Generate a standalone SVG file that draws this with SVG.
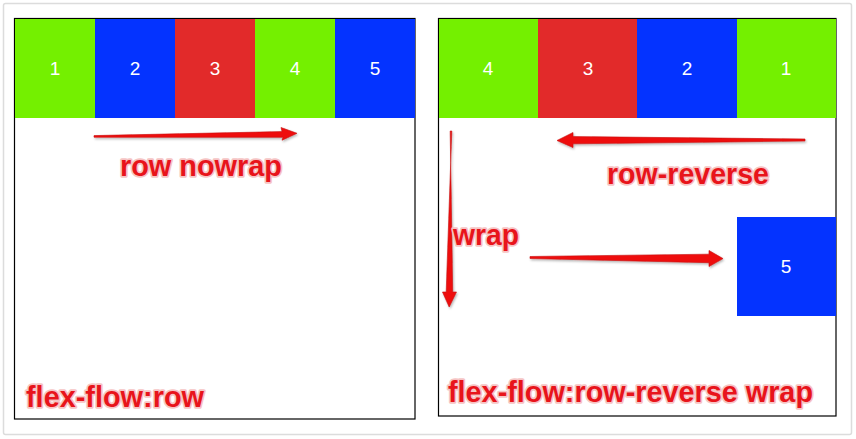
<svg xmlns="http://www.w3.org/2000/svg" width="856" height="439" viewBox="0 0 856 439">
<style>
.g{fill:#74f000}.b{fill:#0433ff}.r{fill:#e22a2a}
.num{font-family:"Liberation Sans",Arial,sans-serif;font-size:19px;fill:#fff;text-anchor:middle}
.lbl{font-family:"Liberation Sans",Arial,sans-serif;font-weight:bold;font-size:30px;fill:#e8141b;stroke:#f6c4c4;stroke-width:3.5px;paint-order:stroke;stroke-linejoin:round}
.arr{fill:#ee1010;stroke:#c80c0c;stroke-width:0.6}
.box{fill:#fff;stroke:#000;stroke-width:1.2}
</style>
<defs>
<filter id="sh" x="-5%" y="-20%" width="110%" height="140%"><feDropShadow dx="1" dy="1.5" stdDeviation="1" flood-color="#000" flood-opacity="0.3"/></filter>
</defs>
<rect x="0" y="0" width="856" height="439" fill="#fff"/>
<rect x="3.5" y="3.5" width="848" height="431" rx="2" fill="#fff" stroke="#dcdcdc" stroke-width="1.5"/>
<g id="left-panel">
<rect class="box" x="14.5" y="18.5" width="400.5" height="400.5"/>
<g id="l1"><rect class="g" x="15" y="19" width="80" height="99"/><text class="num" x="55" y="75">1</text></g>
<g id="l2"><rect class="b" x="95" y="19" width="80" height="99"/><text class="num" x="135" y="75">2</text></g>
<g id="l3"><rect class="r" x="175" y="19" width="80" height="99"/><text class="num" x="215" y="75">3</text></g>
<g id="l4"><rect class="g" x="255" y="19" width="80" height="99"/><text class="num" x="295" y="75">4</text></g>
<g id="l5"><rect class="b" x="335" y="19" width="80" height="99"/><text class="num" x="375" y="75">5</text></g>
</g>
<g id="right-panel">
<rect class="box" x="438.5" y="18.5" width="397.5" height="397.5"/>
<g id="r4"><rect class="g" x="439" y="19" width="99" height="99"/><text class="num" x="488" y="75">4</text></g>
<g id="r3"><rect class="r" x="538" y="19" width="99" height="99"/><text class="num" x="588" y="75">3</text></g>
<g id="r2"><rect class="b" x="637" y="19" width="100" height="99"/><text class="num" x="687" y="75">2</text></g>
<g id="r1"><rect class="g" x="737" y="19" width="99" height="99"/><text class="num" x="786" y="75">1</text></g>
<g id="r5"><rect class="b" x="737" y="217" width="99" height="99"/><text class="num" x="786" y="273">5</text></g>
</g>
<g id="connectors" filter="url(#sh)">
<polygon class="arr" points="94,135.6 282,131.6 281,127.5 297,133.3 282,140.2 283,137.2 94,137.2"/>
<polygon class="arr" points="805,139 573,136.6 573,132.5 557,140.5 573,147.5 573,143.8 805,141"/>
<polygon class="arr" points="450.2,131 452.7,292 456.5,292 449.2,307 442.5,292 446.2,292 451.8,131"/>
<polygon class="arr" points="530,256.5 709,254.2 709,250.5 723,258.6 709,266.5 709,262.7 530,258.5"/>
</g>
<g id="labels">
<text class="lbl" x="120" y="176" textLength="162" lengthAdjust="spacingAndGlyphs">row nowrap</text>
<text class="lbl" x="607" y="184" textLength="162" lengthAdjust="spacingAndGlyphs">row-reverse</text>
<text class="lbl" x="453" y="245" textLength="66" lengthAdjust="spacingAndGlyphs">wrap</text>
<text class="lbl" x="26" y="407" textLength="178" lengthAdjust="spacingAndGlyphs">flex-flow:row</text>
<text class="lbl" x="448" y="402" textLength="365" lengthAdjust="spacingAndGlyphs">flex-flow:row-reverse wrap</text>
</g>
</svg>
